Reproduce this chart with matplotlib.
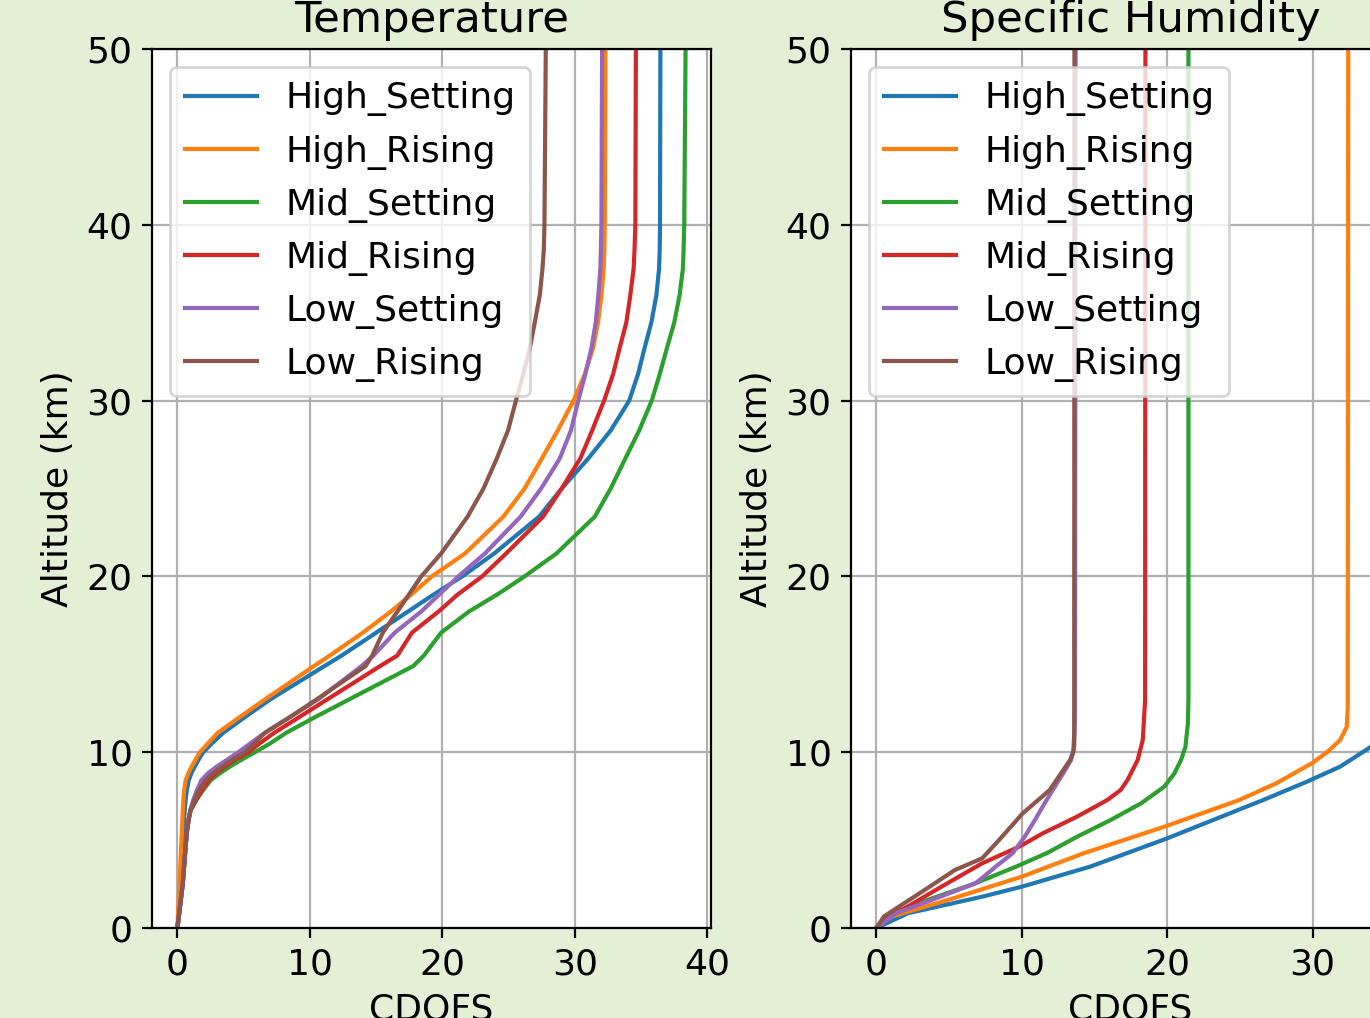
import matplotlib
matplotlib.use("Agg")
import matplotlib.pyplot as plt

plt.rcParams["font.size"] = 13

series_names = ["High_Setting", "High_Rising", "Mid_Setting", "Mid_Rising", "Low_Setting", "Low_Rising"]

# ---------------- Temperature panel ----------------
temp_alt = [0, 2.5, 5.4, 6.2, 6.7, 7.3, 7.8, 8.4, 8.8, 9.2, 9.6, 10, 10.5, 11.1, 12, 13,
            14.9, 15.5, 16.8, 18, 19, 20, 21.3, 23.4, 25, 26.7, 28.3, 30, 31.5, 33,
            34.45, 36, 37.5, 38.6, 40, 50]
temp_high_setting = [0, 0.3, 0.45, 0.5, 0.55, 0.62, 0.7, 0.85, 1.05, 1.32, 1.62, 1.95, 2.6, 3.45,
                     5.1, 7.0, 11.1, 12.4, 15.0, 17.4, 19.4, 21.5, 23.9, 27.3, 29.0, 31.0, 32.7,
                     34.1, 34.76, 35.26, 35.77, 36.15, 36.35, 36.4, 36.42, 36.45]
temp_high_rising = [0, 0.15, 0.33, 0.38, 0.4, 0.45, 0.5, 0.62, 0.82, 1.08, 1.38, 1.7, 2.3, 3.04,
                    4.7, 6.6, 10.3, 11.5, 14.0, 16.1, 17.7, 19.2, 21.7, 24.6, 26.2, 27.5, 28.7,
                    29.9, 30.75, 31.37, 31.74, 32.0, 32.17, 32.22, 32.25, 32.3]
temp_mid_setting = [0, 0.4, 0.7, 0.85, 1.0, 1.45, 1.9, 2.5, 3.2, 4.0, 4.9, 5.85, 7.0, 8.2,
                    10.4, 12.95, 17.8, 18.6, 19.9, 22.0, 24.2, 26.2, 28.6, 31.5, 32.7, 33.8, 34.85,
                    35.8, 36.4, 36.95, 37.5, 37.9, 38.15, 38.2, 38.25, 38.35]
temp_mid_rising = [0, 0.4, 0.7, 0.85, 1.0, 1.4, 1.8, 2.35, 2.9, 3.6, 4.4, 5.35, 6.2, 7.3,
                   9.2, 11.3, 15.3, 16.6, 17.7, 19.7, 21.2, 23.0, 24.8, 27.6, 29.0, 30.4, 31.3,
                   32.2, 32.88, 33.38, 33.88, 34.18, 34.43, 34.5, 34.56, 34.6]
temp_low_setting = [0, 0.4, 0.7, 0.85, 0.97, 1.2, 1.45, 1.8, 2.3, 3.0, 3.8, 4.6, 5.5, 6.6,
                    8.5, 10.6, 13.9, 14.8, 16.4, 18.4, 19.8, 21.2, 23.2, 25.9, 27.45, 28.85, 29.7,
                    30.25, 30.78, 31.25, 31.57, 31.77, 31.92, 31.96, 32.0, 32.05]
temp_low_rising = [0, 0.4, 0.7, 0.85, 0.97, 1.3, 1.6, 2.1, 2.7, 3.4, 4.2, 5.1, 5.8, 6.6,
                   8.5, 10.5, 14.2, 14.7, 15.5, 16.6, 17.5, 18.4, 19.9, 21.9, 23.1, 24.1, 24.95,
                   25.55, 26.1, 26.6, 26.97, 27.35, 27.55, 27.65, 27.7, 27.8]

# ---------------- Specific humidity panel ----------------
hum_high_setting_alt = [0, 0.84, 1.78, 2.35, 3.49, 5.1, 7.28, 8.32, 9.18, 10.3, 11.5, 13, 50]
hum_high_setting = [0, 2.17, 7.27, 10.0, 14.7, 20.0, 26.6, 29.6, 31.9, 34.0, 35.3, 35.7, 35.9]
hum_high_rising_alt = [0, 0.64, 1.59, 2.92, 4.25, 5.76, 7.28, 8.23, 9.37, 10.0, 10.7, 11.45, 12.5, 50]
hum_high_rising = [0, 1.0, 4.9, 10.0, 14.25, 19.8, 24.95, 27.5, 29.95, 31.0, 31.9, 32.35, 32.42, 32.45]
hum_mid_setting_alt = [0, 0.84, 1.59, 2.54, 3.49, 4.25, 5.19, 6.14, 7.09, 8.04, 8.8, 9.56, 10.3, 11.6, 13, 50]
hum_mid_setting = [0, 1.2, 3.5, 6.8, 9.6, 11.7, 13.8, 16.1, 18.2, 19.8, 20.5, 20.95, 21.25, 21.42, 21.46, 21.46]
hum_mid_rising_alt = [0, 0.46, 1.22, 2.35, 3.68, 4.63, 5.39, 6.33, 7.28, 7.85, 8.42, 9.56, 10.7, 13, 50]
hum_mid_rising = [0, 0.4, 2.15, 4.47, 7.27, 9.83, 11.45, 13.79, 15.88, 16.8, 17.27, 17.97, 18.32, 18.48, 18.5]
hum_low_setting_alt = [0, 0.84, 1.59, 2.54, 2.8, 3.49, 4.25, 5.19, 6.14, 7.09, 8.04, 8.8, 9.56, 10.3, 12, 50]
hum_low_setting = [0, 1.35, 3.8, 6.8, 7.2, 8.2, 9.36, 10.2, 10.9, 11.57, 12.27, 12.85, 13.39, 13.6, 13.66, 13.7]
hum_low_rising_alt = [0, 0.66, 2.16, 3.30, 3.96, 5.0, 6.52, 7.85, 9.56, 10.03, 11.07, 50]
hum_low_rising = [0, 0.52, 3.31, 5.40, 7.27, 8.43, 10.06, 11.92, 13.32, 13.55, 13.6, 13.62]

colors = ["#1f77b4", "#ff7f0e", "#2ca02c", "#d62728", "#9467bd", "#8c564b"]

fig = plt.figure(figsize=(6.85, 5.09), dpi=200, facecolor="#e5efd6")
ax1 = fig.add_axes([0.11095, 0.08841, 0.40803, 0.86346])
ax2 = fig.add_axes([0.62117, 0.08841, 0.40803, 0.86346])

temp_vals = [temp_high_setting, temp_high_rising, temp_mid_setting,
             temp_mid_rising, temp_low_setting, temp_low_rising]
for name, vals, c in zip(series_names, temp_vals, colors):
    ax1.plot(vals, temp_alt, color=c, label=name)

hum_data = [(hum_high_setting, hum_high_setting_alt), (hum_high_rising, hum_high_rising_alt),
            (hum_mid_setting, hum_mid_setting_alt), (hum_mid_rising, hum_mid_rising_alt),
            (hum_low_setting, hum_low_setting_alt), (hum_low_rising, hum_low_rising_alt)]
for name, (vals, alts), c in zip(series_names, hum_data, colors):
    ax2.plot(vals, alts, color=c, label=name)

for ax, title in [(ax1, "Temperature"), (ax2, "Specific Humidity")]:
    ax.set_title(title)
    ax.set_xlabel("CDOFS")
    ax.set_ylabel("Altitude (km)")
    ax.set_ylim(0, 50)
    ax.grid(True)
    ax.legend(loc="upper left")

ax1.set_xlim(-1.92, 40.27)
ax2.set_xlim(-1.75, 36.7)
ax1.set_xticks([0, 10, 20, 30, 40])
ax2.set_xticks([0, 10, 20, 30])

fig.savefig("out.png", dpi=200, facecolor=fig.get_facecolor())
